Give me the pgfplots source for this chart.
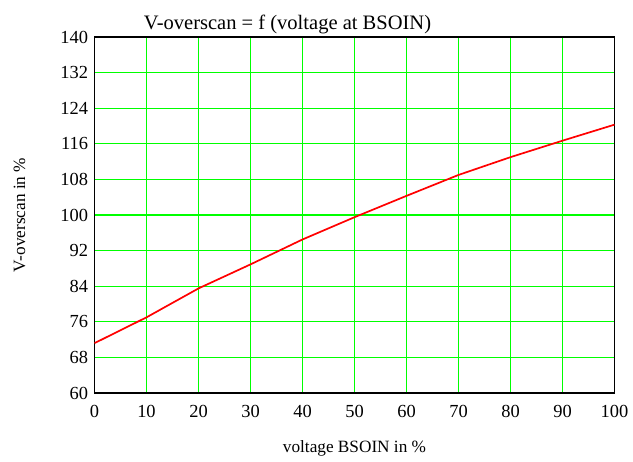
\documentclass[border=0pt]{standalone}
\usepackage{fontspec}
\setmainfont{Liberation Serif}
\usepackage{pgfplots}
\pgfplotsset{compat=1.18}
\definecolor{gridgreen}{RGB}{0,255,0}
\begin{document}
\begin{tikzpicture}
\begin{axis}[
  scale only axis,
  width=520bp, height=356bp,
  xmin=0, xmax=100, ymin=60, ymax=140,
  xtick={0,10,...,100},
  ytick={60,68,...,140},
  xmajorgrids=true, ymajorgrids=true,
  x grid style={draw=gridgreen, line width=1.05bp},
  y grid style={draw=gridgreen, line width=1.05bp},
  major tick length=0pt,
  axis line style={black, line width=1.3bp},
  /pgf/number format/assume math mode=true,
  tick label style={font=\fontsize{18.5}{18}\selectfont},
  xticklabel style={yshift=-9bp},
  yticklabel style={xshift=-3bp},
  title={V-overscan = f (voltage at BSOIN)},
  title style={font=\fontsize{20.6}{20}\selectfont, yshift=-6bp, xshift=-67bp},
  xlabel={voltage BSOIN in \%},
  ylabel={V-overscan in \%},
  label style={font=\fontsize{17.3}{17}\selectfont},
  xlabel style={yshift=-16bp},
  ylabel style={yshift=28bp},
]
\addplot[red, line width=1.7bp] coordinates {
(0,71.2) (10,77.0) (20,83.5) (30,88.9) (40,94.5) (50,99.5)
(60,104.3) (70,109.0) (80,113.0) (90,116.7) (100,120.3)
};
\end{axis}
\pgfresetboundingbox
\path (current axis.south west) ++(-94.5bp,-69bp) coordinate (bl);
\path (current axis.north east) ++(18.5bp,37bp) coordinate (tr);
\path[use as bounding box] (bl) rectangle (tr);
\end{tikzpicture}
\end{document}
